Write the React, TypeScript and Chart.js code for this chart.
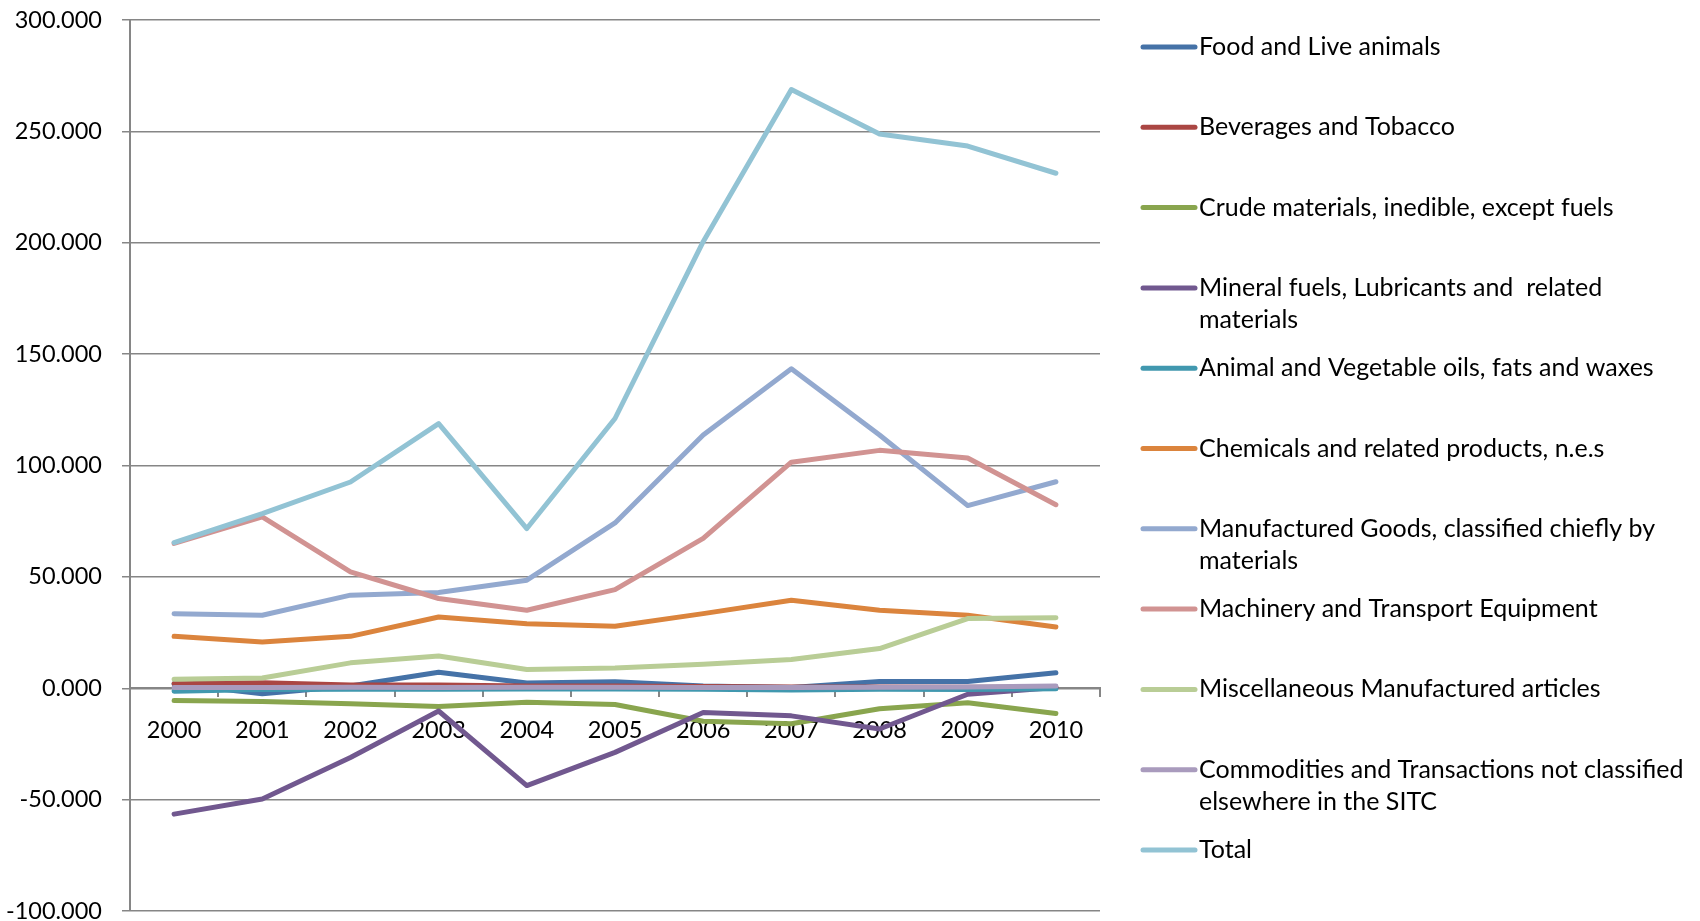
import React, { useEffect, useRef } from "react";
import { Chart, registerables } from "chart.js";

Chart.register(...registerables);

const years = ["2000", "2001", "2002", "2003", "2004", "2005", "2006", "2007", "2008", "2009", "2010"];

const seriesNames = [
  "Food and Live animals",
  "Beverages and Tobacco",
  "Crude materials, inedible, except fuels",
  "Mineral fuels, Lubricants and  related materials",
  "Animal and Vegetable oils, fats and waxes",
  "Chemicals and related products, n.e.s",
  "Manufactured Goods, classified chiefly by materials",
  "Machinery and Transport Equipment",
  "Miscellaneous Manufactured articles",
  "Commodities and Transactions not classified elsewhere in the SITC",
  "Total",
];

const seriesColors = [
  "#4572A7",
  "#AA4643",
  "#89A54E",
  "#71588F",
  "#4198AF",
  "#DB843D",
  "#93A9CF",
  "#D19392",
  "#B9CD96",
  "#A99BBD",
  "#92C3D4",
];

const food = [2.0, -2.5, 1.0, 7.2, 2.4, 2.9, 1.0, 0.3, 3.0, 3.0, 7.0];
const beverages = [2.0, 2.5, 1.5, 1.5, 1.0, 1.0, 0.8, 0.6, 0.6, 0.5, 0.5];
const crude = [-5.5, -6.0, -7.0, -8.2, -6.3, -7.3, -14.8, -15.9, -9.2, -6.5, -11.3];
const mineral = [-56.5, -49.7, -31.1, -10.2, -43.7, -28.8, -10.9, -12.4, -18.3, -2.7, 0.3];
const animalOils = [-1.3, -0.6, -0.4, -0.5, -0.3, -0.3, -0.4, -0.8, -0.4, -0.6, -0.2];
const chemicals = [23.3, 20.8, 23.3, 32.0, 29.0, 27.8, 33.5, 39.5, 35.0, 32.8, 27.5];
const manufactured = [33.5, 32.8, 41.8, 43.0, 48.5, 74.2, 113.7, 143.4, 113.7, 82.0, 92.7];
const machinery = [65.0, 76.9, 52.2, 40.3, 35.0, 44.3, 67.3, 101.5, 106.8, 103.4, 82.4];
const miscellaneous = [4.0, 4.6, 11.4, 14.5, 8.4, 9.1, 10.8, 12.9, 17.8, 31.3, 31.7];
const commodities = [0.3, 0.3, 0.4, 0.3, 0.4, 0.4, 0.3, 0.3, 0.5, 0.6, 1.0];
const total = [65.4, 78.4, 92.6, 118.8, 71.7, 121.1, 200.5, 268.8, 248.8, 243.4, 231.2];

const seriesValues = [
  food, beverages, crude, mineral, animalOils, chemicals,
  manufactured, machinery, miscellaneous, commodities, total,
];

const yMin = -100;
const yMax = 300;
const yStep = 50;

const FONT_FAMILY = "Lato, 'Liberation Sans', sans-serif";
const LEGEND_FONT_SIZE = 25;
const TICK_FONT_SIZE = 23.5;
const AXIS_COLOR = "#868686";

function wrapText(ctx: CanvasRenderingContext2D, text: string, maxWidth: number): string[] {
  const words = text.split(" ");
  const lines: string[] = [];
  let current = "";
  for (let i = 0; i < words.length; i++) {
    const w = words[i];
    const candidate = current === "" ? w : current + " " + w;
    if (ctx.measureText(candidate).width > maxWidth && current.trim() !== "") {
      lines.push(current);
      current = w;
    } else {
      current = candidate;
    }
  }
  if (current !== "") lines.push(current);
  return lines;
}

const sideLegend = {
  id: "sideLegend",
  afterDraw(chart: any) {
    const ctx: CanvasRenderingContext2D = chart.ctx;
    const area = chart.chartArea;
    const lineX0 = area.right + 43;
    const lineX1 = area.right + 95;
    const textX = area.right + 99;
    const firstY = area.top + 27;
    const rowStep = 80.3;
    const lineHeight = 32.5;
    ctx.save();
    ctx.font = `${LEGEND_FONT_SIZE}px ${FONT_FAMILY}`;
    ctx.textBaseline = "middle";
    ctx.textAlign = "left";
    chart.data.datasets.forEach((ds: any, i: number) => {
      const y = firstY + i * rowStep;
      ctx.strokeStyle = ds.borderColor;
      ctx.lineWidth = 5;
      ctx.lineCap = "round";
      ctx.beginPath();
      ctx.moveTo(lineX0, y);
      ctx.lineTo(lineX1, y);
      ctx.stroke();
      ctx.fillStyle = "#000000";
      const lines = wrapText(ctx, ds.label, 495);
      lines.forEach((ln, k) => {
        ctx.fillText(ln, textX, y + k * lineHeight);
      });
    });
    ctx.restore();
  },
};

export default function App() {
  const canvasRef = useRef<HTMLCanvasElement | null>(null);

  useEffect(() => {
    if (!canvasRef.current) return;
    const datasets = seriesNames.map((name, i) => ({
      label: name,
      data: seriesValues[i],
      borderColor: seriesColors[i],
      backgroundColor: seriesColors[i],
      borderWidth: 5,
      pointRadius: 0,
      pointHoverRadius: 0,
      tension: 0,
      fill: false,
      borderCapStyle: "round" as const,
      borderJoinStyle: "round" as const,
      order: seriesNames.length - i,
    }));

    const chart = new Chart(canvasRef.current, {
      type: "line",
      data: { labels: years, datasets },
      options: {
        responsive: false,
        animation: false,
        layout: { padding: { top: 20, right: 600, bottom: 10, left: 0 } },
        plugins: {
          legend: { display: false },
          tooltip: { enabled: false },
          title: { display: false },
        },
        scales: {
          x: {
            type: "category",
            offset: true,
            position: { y: 0 } as any,
            grid: {
              display: true,
              drawOnChartArea: false,
              drawTicks: true,
              tickLength: 8,
              offset: true,
              color: AXIS_COLOR,
              lineWidth: 2,
            },
            border: { display: true, color: AXIS_COLOR, width: 2 },
            ticks: {
              color: "#000000",
              font: { family: FONT_FAMILY, size: TICK_FONT_SIZE },
              padding: 20,
              maxRotation: 0,
              autoSkip: false,
            },
            afterFit: (s: any) => {
              s.paddingLeft = 0;
              s.paddingRight = 0;
              s.paddingTop = 0;
              s.paddingBottom = 0;
            },
          },
          y: {
            min: yMin,
            max: yMax,
            grid: {
              color: AXIS_COLOR,
              lineWidth: 1.5,
              tickLength: 8,
              drawTicks: true,
            },
            border: { display: true, color: AXIS_COLOR, width: 2 },
            ticks: {
              stepSize: yStep,
              color: "#000000",
              font: { family: FONT_FAMILY, size: TICK_FONT_SIZE },
              padding: 20,
              callback: (v: any) => Number(v).toFixed(3),
            },
            afterFit: (s: any) => {
              s.width = 130;
              s.paddingTop = 0;
              s.paddingBottom = 0;
            },
          },
        },
      },
      plugins: [sideLegend],
    });

    return () => {
      chart.destroy();
    };
  }, []);

  return (
    <div style={{ position: "absolute", left: 0, top: 0, width: 1700, height: 921, background: "#ffffff" }}>
      <canvas ref={canvasRef} width={1700} height={921} style={{ display: "block" }} />
    </div>
  );
}
